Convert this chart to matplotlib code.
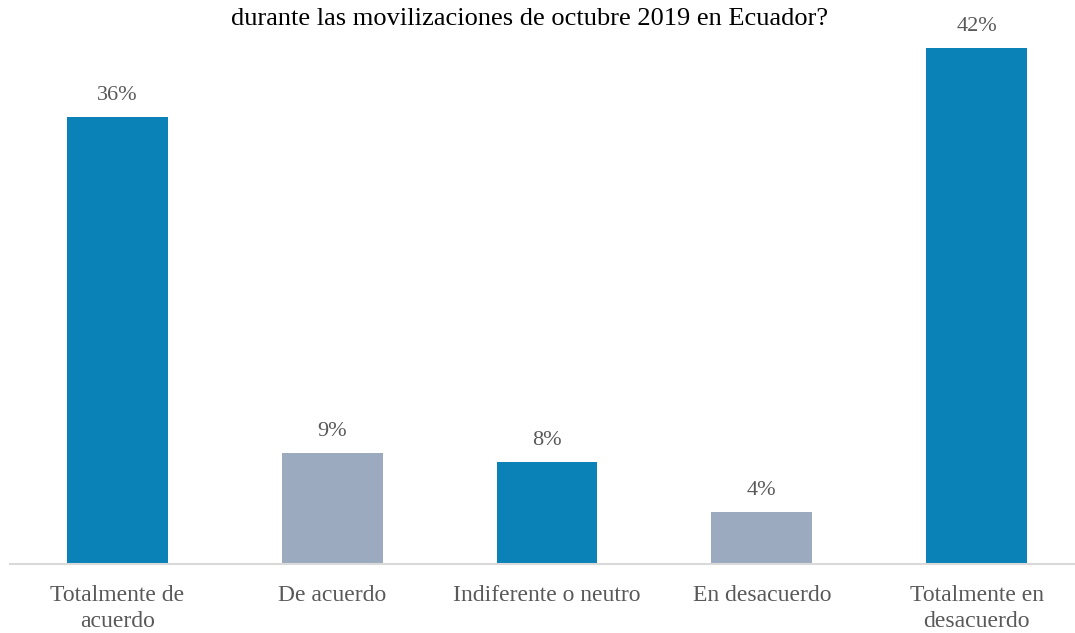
import matplotlib.pyplot as plt

plt.rcParams['font.family'] = ['Liberation Serif', 'DejaVu Serif']

categorias = ['Totalmente de\nacuerdo', 'De acuerdo', 'Indiferente o neutro',
              'En desacuerdo', 'Totalmente en\ndesacuerdo']
valores = [36.4, 9.0, 8.3, 4.2, 42.0]
etiquetas = ['36%', '9%', '8%', '4%', '42%']
colores = ['#0a82b8', '#9baabf', '#0a82b8', '#9baabf', '#0a82b8']

fig = plt.figure(figsize=(10.75, 6.33), dpi=100)
ax = fig.add_axes([10 / 1075, 69 / 633, 1074 / 1075, 564 / 633])

x = range(len(categorias))
ax.bar(x, valores, width=0.47, color=colores)

for i, v in enumerate(valores):
    ax.text(i, v + 1.0, etiquetas[i], ha='center', va='bottom',
            fontsize=16, color='#595959')

ax.set_xlim(-0.5, 4.5)
ax.set_ylim(0, 42 * 564 / 516)
ax.set_xticks(list(x))
ax.set_xticklabels(categorias, fontsize=17, color='#595959', linespacing=1.3)
ax.tick_params(axis='x', length=0, pad=15)
ax.set_yticks([])
for s in ['top', 'right', 'left']:
    ax.spines[s].set_visible(False)
ax.spines['bottom'].set_color('#d9d9d9')
ax.spines['bottom'].set_linewidth(1.5)

fig.text(530 / 1075, 1 - 19 / 633,
         'durante las movilizaciones de octubre 2019 en Ecuador?',
         ha='center', va='center', fontsize=19, color='black')

fig.savefig('out.png', dpi=100)
